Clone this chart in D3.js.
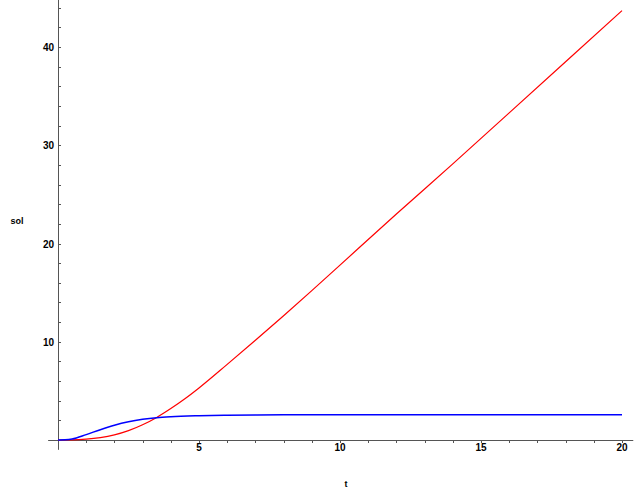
<!DOCTYPE html>
<html>
<head>
<meta charset="utf-8">
<script src="https://cdn.jsdelivr.net/npm/d3@7"></script>
<style>
  body { margin: 0; background: #fff; }
  .tick-label { font-family: "Liberation Sans", Arial, sans-serif; font-weight: bold; font-size: 10px; fill: #000; }
  .axis-title { font-family: "Liberation Sans", Arial, sans-serif; font-weight: bold; font-size: 9px; fill: #000; }
</style>
</head>
<body>
<div id="figure-container"></div>
<script>
// data
var redT   = [0, 0.5, 1, 1.5, 2, 2.5, 3, 3.5, 4, 4.5, 5, 6, 7, 8, 9, 10, 12, 14, 16, 18, 20];
var redSol = [0, 0.01, 0.08, 0.24, 0.52, 0.95, 1.55, 2.3, 3.2, 4.2, 5.3, 7.7, 10.15, 12.65, 15.2, 17.8, 23.0, 28.1, 33.3, 38.5, 43.7];

var blueT   = [0, 0.25, 0.5, 1, 1.5, 2, 2.5, 3, 3.5, 4, 5, 6, 7, 8, 10, 15, 20];
var blueSol = [0, 0.02, 0.1, 0.55, 1.05, 1.5, 1.85, 2.1, 2.27, 2.37, 2.47, 2.52, 2.55, 2.57, 2.58, 2.58, 2.58];

var xMajor = [5, 10, 15, 20];
var yMajor = [10, 20, 30, 40];
var xMinor = d3.range(1, 21, 1);
var yMinor = d3.range(2, 45, 2);

var fullWidth = 641;
var fullHeight = 488;

var xScale = d3.scaleLinear()
  .domain([0, 20])
  .range([58, 622]);

var yScale = d3.scaleLinear()
  .domain([0, 40])
  .range([440, 47]);

var svg = d3.select('#figure-container')
  .append('svg')
  .attr('width', fullWidth)
  .attr('height', fullHeight);

// axes lines
var axisColor = '#555';
svg.append('line')
  .attr('x1', xScale(-0.35)).attr('x2', xScale(20.4))
  .attr('y1', yScale(0) + 0.5).attr('y2', yScale(0) + 0.5)
  .attr('stroke', axisColor).attr('stroke-width', 1);
svg.append('line')
  .attr('x1', xScale(0) + 0.5).attr('x2', xScale(0) + 0.5)
  .attr('y1', yScale(-1)).attr('y2', yScale(45))
  .attr('stroke', axisColor).attr('stroke-width', 1);

// minor / major ticks
svg.append('g')
  .selectAll('line')
  .data(xMinor)
  .enter()
    .append('line')
    .attr('x1', function(d) { return Math.round(xScale(d)) + 0.5; })
    .attr('x2', function(d) { return Math.round(xScale(d)) + 0.5; })
    .attr('y1', yScale(0))
    .attr('y2', yScale(0) + 3)
    .attr('stroke', axisColor);

svg.append('g')
  .selectAll('line')
  .data(yMinor)
  .enter()
    .append('line')
    .attr('x1', xScale(0))
    .attr('x2', xScale(0) + 3)
    .attr('y1', function(d) { return Math.round(yScale(d)) + 0.5; })
    .attr('y2', function(d) { return Math.round(yScale(d)) + 0.5; })
    .attr('stroke', axisColor);

// tick labels
svg.append('g')
  .selectAll('text')
  .data(xMajor)
  .enter()
    .append('text')
    .attr('class', 'tick-label')
    .attr('x', function(d) { return xScale(d); })
    .attr('y', yScale(0) + 11)
    .attr('text-anchor', 'middle')
    .text(function(d) { return d; });

svg.append('g')
  .selectAll('text')
  .data(yMajor)
  .enter()
    .append('text')
    .attr('class', 'tick-label')
    .attr('x', xScale(0) - 4)
    .attr('y', function(d) { return yScale(d) + 4; })
    .attr('text-anchor', 'end')
    .text(function(d) { return d; });

// axis titles
svg.append('text')
  .attr('class', 'axis-title')
  .attr('x', 17)
  .attr('y', 224)
  .attr('text-anchor', 'middle')
  .text('sol');

svg.append('text')
  .attr('class', 'axis-title')
  .attr('x', 346)
  .attr('y', 487)
  .attr('text-anchor', 'middle')
  .text('t');

// curves
var line = d3.line()
  .x(function(d) { return xScale(d[0]); })
  .y(function(d) { return yScale(d[1]); })
  .curve(d3.curveMonotoneX);

svg.append('path')
  .datum(d3.zip(redT, redSol))
  .attr('fill', 'none')
  .attr('stroke', '#ff0000')
  .attr('stroke-width', 1.2)
  .attr('d', line);

svg.append('path')
  .datum(d3.zip(blueT, blueSol))
  .attr('fill', 'none')
  .attr('stroke', '#0000ff')
  .attr('stroke-width', 1.5)
  .attr('d', line);
</script>
</body>
</html>
